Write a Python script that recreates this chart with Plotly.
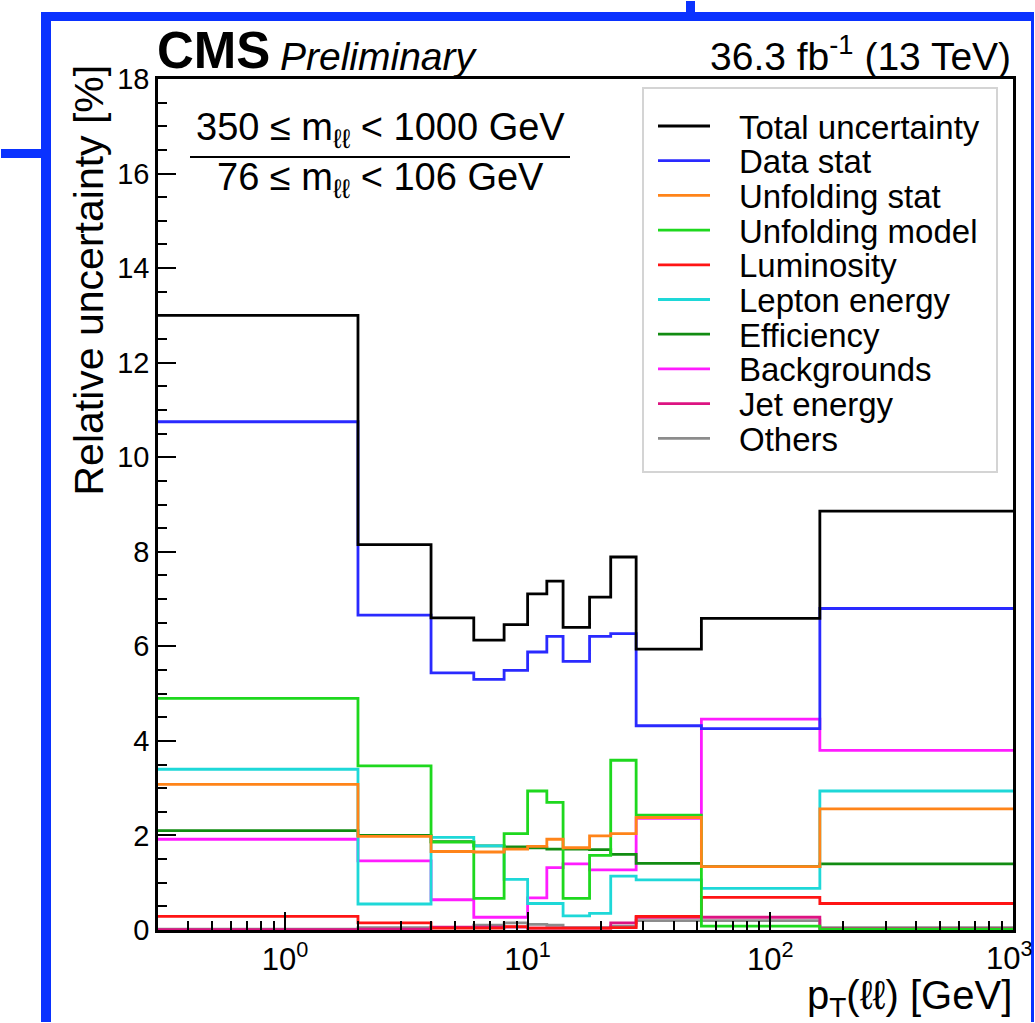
import plotly.graph_objects as go

# pT(ll) bin edges [GeV]; the first bin starts at 0 (clipped by the log axis)
edges = [0, 2, 4, 6, 8, 10, 12, 14, 18, 22, 28, 52, 160, 1000]

# Relative uncertainties [%] per bin
total = [13.0, 8.15, 6.60, 6.13, 6.46, 7.11, 7.38, 6.40, 7.04, 7.89, 5.94, 6.59, 8.86]
data_stat = [10.75, 6.66, 5.44, 5.30, 5.49, 5.88, 6.21, 5.68, 6.21, 6.27, 4.32, 4.26, 6.80]
unfolding_stat = [3.08, 1.98, 1.66, 1.65, 1.71, 1.77, 1.92, 1.74, 1.99, 2.04, 2.38, 1.34, 2.56]
unfolding_model = [4.90, 3.47, 1.86, 0.67, 2.04, 2.94, 2.70, 0.67, 1.58, 3.59, 2.43, 0.08, 0.02]
luminosity = [0.29, 0.15, 0.04, 0.04, 0.07, 0.04, 0.04, 0.04, 0.04, 0.05, 0.29, 0.69, 0.56]
lepton_energy = [3.40, 0.55, 1.96, 1.78, 1.07, 0.56, 0.56, 0.30, 0.35, 1.14, 1.06, 0.88, 2.94]
efficiency = [2.10, 2.00, 1.87, 1.78, 1.76, 1.74, 1.71, 1.71, 1.70, 1.60, 1.41, 1.34, 1.40]
backgrounds = [1.92, 1.46, 0.64, 0.27, 0.27, 0.68, 1.32, 1.40, 1.27, 1.27, 2.36, 4.46, 3.80]
jet_energy = [0.01, 0.02, 0.06, 0.06, 0.06, 0.04, 0.04, 0.04, 0.04, 0.15, 0.27, 0.27, 0.03]
others = [0.02, 0.05, 0.05, 0.10, 0.15, 0.12, 0.10, 0.05, 0.05, 0.08, 0.20, 0.20, 0.05]

series = [
    ("Total uncertainty", total, "#000000"),
    ("Data stat", data_stat, "#2a2aff"),
    ("Unfolding stat", unfolding_stat, "#ff8419"),
    ("Unfolding model", unfolding_model, "#1ed81e"),
    ("Luminosity", luminosity, "#ff1414"),
    ("Lepton energy", lepton_energy, "#1ed8d8"),
    ("Efficiency", efficiency, "#128c12"),
    ("Backgrounds", backgrounds, "#ff1cff"),
    ("Jet energy", jet_energy, "#dc1482"),
    ("Others", others, "#8c8c8c"),
]

# decade tick labels on the pT axis
x_major = [1, 10, 100, 1000]
x_major_text = ["10<sup>0</sup>", "10<sup>1</sup>", "10<sup>2</sup>", "10<sup>3</sup>"]

FONT = "Liberation Sans, Arial, Helvetica, sans-serif"
W, H = 1035, 1023
L, R, T, B = 158, 1013, 79, 930  # plot frame in pixels


def px(x):
    return (x - L) / (R - L)


def py(y):
    return (B - y) / (B - T)


x_plot = [max(e, 0.01) for e in edges]

fig = go.Figure()
# draw in reverse so the total ends up on top
for name, vals, color in reversed(series):
    fig.add_trace(go.Scatter(
        x=x_plot, y=vals + [vals[-1]], mode="lines", name=name,
        line=dict(color=color, width=2.8, shape="hv"),
        hoverinfo="skip", showlegend=False,
    ))

minor_vals = [m * 10 ** d for d in range(-1, 3) for m in range(2, 10)]

fig.update_layout(
    width=W, height=H,
    margin=dict(l=L, r=W - R, t=T, b=H - B, pad=0),
    paper_bgcolor="white", plot_bgcolor="white",
    font=dict(family=FONT, color="black", size=28),
    showlegend=False,
    xaxis=dict(
        type="log", range=[-0.523, 3.0],
        showgrid=False, zeroline=False,
        showline=True, linecolor="black", linewidth=2.5, mirror=True,
        ticks="inside", ticklen=18, tickwidth=2, tickcolor="black",
        # the last decade label sits on the frame edge; it is added as an annotation
        tickvals=x_major[:-1], ticktext=x_major_text[:-1],
        tickfont=dict(size=31, family=FONT),
        minor=dict(ticks="inside", ticklen=9, tickwidth=2, tickcolor="black",
                   tickvals=minor_vals, showgrid=False),
    ),
    yaxis=dict(
        range=[0, 18], showgrid=False, zeroline=False,
        showline=True, linecolor="black", linewidth=2.5, mirror=True,
        ticks="inside", ticklen=18, tickwidth=2, tickcolor="black",
        tickvals=list(range(0, 19, 2)),
        tickfont=dict(size=29, family=FONT),
        minor=dict(ticks="inside", ticklen=9, tickwidth=2, tickcolor="black",
                   dtick=0.5, showgrid=False),
    ),
)

annotations = [
    dict(x=px(1035), y=py(934), text=x_major_text[-1],
         xanchor="right", yanchor="top", font=dict(size=31, family=FONT)),
    dict(x=px(155), y=py(50), text="<b>CMS</b>", xanchor="left", yanchor="middle",
         font=dict(size=51, family=FONT)),
    dict(x=px(278), y=py(56), text="<i>Preliminary</i>", xanchor="left", yanchor="middle",
         font=dict(size=39, family=FONT)),
    dict(x=px(1013), y=py(53), text="36.3 fb<sup>-1</sup> (13 TeV)", xanchor="right",
         yanchor="middle", font=dict(size=39, family=FONT)),
    dict(x=px(88), y=py(63), text="Relative uncertainty [%]", textangle=-90,
         xanchor="center", yanchor="top", font=dict(size=41, family=FONT)),
    dict(x=px(1014), y=py(998), text="p<sub>T</sub>(ℓℓ) [GeV]", xanchor="right",
         yanchor="middle", font=dict(size=40, family=FONT)),
    dict(x=px(380), y=py(130), text="350 ≤ m<sub>ℓℓ</sub> &lt; 1000 GeV",
         xanchor="center", yanchor="middle", font=dict(size=38, family=FONT)),
    dict(x=px(380), y=py(180), text="76 ≤ m<sub>ℓℓ</sub> &lt; 106 GeV",
         xanchor="center", yanchor="middle", font=dict(size=38, family=FONT)),
]

BLUE = "#0a32ff"
shapes = [
    # fraction bar
    dict(type="line", x0=px(190), x1=px(570), y0=py(157), y1=py(157),
         line=dict(color="black", width=2)),
    # legend box
    dict(type="rect", x0=px(643), x1=px(997), y0=py(88), y1=py(472),
         fillcolor="white", line=dict(color="#d4d4d4", width=2)),
]

# legend entries: sample line plus label, one row per series
row0, row_step = 126, 34.7
for i, (name, vals, color) in enumerate(series):
    yc = row0 + i * row_step
    shapes.append(dict(type="line", x0=px(658), x1=px(710), y0=py(yc), y1=py(yc),
                       line=dict(color=color, width=2.8)))
    annotations.append(dict(x=px(737), y=py(yc + 1), text=name, xanchor="left",
                            yanchor="middle", font=dict(size=33, family=FONT)))

# surrounding slide frames, kept inside the page
shapes += [
    dict(type="rect", x0=px(41), x1=px(1034), y0=py(12), y1=py(21),
         fillcolor=BLUE, line=dict(width=0)),
    dict(type="rect", x0=px(41), x1=px(51), y0=py(12), y1=py(1022),
         fillcolor=BLUE, line=dict(width=0)),
    dict(type="rect", x0=px(686), x1=px(695), y0=py(1), y1=py(12),
         fillcolor=BLUE, line=dict(width=0)),
    dict(type="rect", x0=px(1), x1=px(41), y0=py(149), y1=py(158),
         fillcolor=BLUE, line=dict(width=0)),
    dict(type="rect", x0=px(1031), x1=px(1034), y0=py(21), y1=py(1022),
         fillcolor=BLUE, line=dict(width=0)),
]

for a in annotations:
    a.update(xref="paper", yref="paper", showarrow=False)
for s in shapes:
    s.update(xref="paper", yref="paper")
    if s.get("type") == "rect" and s.get("fillcolor") == "white":
        s["layer"] = "below"
    else:
        s["layer"] = "above"
fig.update_layout(annotations=annotations, shapes=shapes)

fig.write_html("out.html")
